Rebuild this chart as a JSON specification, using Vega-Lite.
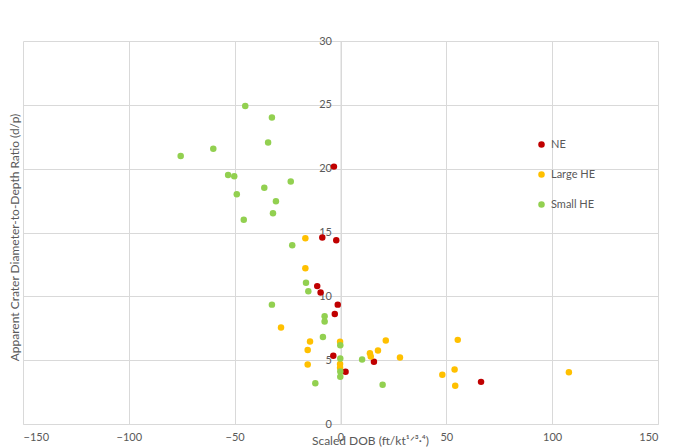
{
  "$schema": "https://vega.github.io/schema/vega-lite/v6.json",
  "autosize": {"type": "none"},
  "padding": {"left": 23, "top": 41, "right": 22, "bottom": 23},
  "width": 635,
  "height": 383,
  "background": "white",
  "config": {
    "view": {"stroke": null},
    "font": "Lato",
    "axis": {
      "gridColor": "#d9d9d9",
      "domainColor": "#d9d9d9",
      "labelColor": "#595959",
      "titleColor": "#595959",
      "labelFontSize": 11,
      "titleFontWeight": "normal",
      "tickSize": 0
    }
  },
  "data": {
    "values": [
      {"dob": -3.1, "ratio": 20.16, "type": "NE"},
      {"dob": -8.6, "ratio": 14.6, "type": "NE"},
      {"dob": -2.0, "ratio": 14.4, "type": "NE"},
      {"dob": -11.0, "ratio": 10.8, "type": "NE"},
      {"dob": -9.4, "ratio": 10.3, "type": "NE"},
      {"dob": -1.3, "ratio": 9.35, "type": "NE"},
      {"dob": -2.7, "ratio": 8.62, "type": "NE"},
      {"dob": -3.4, "ratio": 5.34, "type": "NE"},
      {"dob": 15.8, "ratio": 4.87, "type": "NE"},
      {"dob": 2.4, "ratio": 4.09, "type": "NE"},
      {"dob": 66.4, "ratio": 3.3, "type": "NE"},
      {"dob": -16.6, "ratio": 14.55, "type": "Large HE"},
      {"dob": -16.6, "ratio": 12.2, "type": "Large HE"},
      {"dob": -28.1, "ratio": 7.55, "type": "Large HE"},
      {"dob": -14.4, "ratio": 6.46, "type": "Large HE"},
      {"dob": -0.2, "ratio": 6.45, "type": "Large HE"},
      {"dob": -15.5, "ratio": 5.8, "type": "Large HE"},
      {"dob": 21.4, "ratio": 6.54, "type": "Large HE"},
      {"dob": 17.7, "ratio": 5.75, "type": "Large HE"},
      {"dob": 13.9, "ratio": 5.55, "type": "Large HE"},
      {"dob": 14.3, "ratio": 5.29, "type": "Large HE"},
      {"dob": 28.1, "ratio": 5.2, "type": "Large HE"},
      {"dob": -0.2, "ratio": 4.7, "type": "Large HE"},
      {"dob": -0.2, "ratio": 4.4, "type": "Large HE"},
      {"dob": -15.5, "ratio": 4.66, "type": "Large HE"},
      {"dob": 48.1, "ratio": 3.85, "type": "Large HE"},
      {"dob": 53.9, "ratio": 4.27, "type": "Large HE"},
      {"dob": 54.2, "ratio": 3.0, "type": "Large HE"},
      {"dob": 55.4, "ratio": 6.59, "type": "Large HE"},
      {"dob": 107.9, "ratio": 4.06, "type": "Large HE"},
      {"dob": -45.0, "ratio": 24.9, "type": "Small HE"},
      {"dob": -32.4, "ratio": 24.0, "type": "Small HE"},
      {"dob": -34.2, "ratio": 22.05, "type": "Small HE"},
      {"dob": -60.1, "ratio": 21.56, "type": "Small HE"},
      {"dob": -75.5, "ratio": 21.0, "type": "Small HE"},
      {"dob": -53.1, "ratio": 19.5, "type": "Small HE"},
      {"dob": -50.2, "ratio": 19.4, "type": "Small HE"},
      {"dob": -23.5, "ratio": 19.0, "type": "Small HE"},
      {"dob": -36.0, "ratio": 18.5, "type": "Small HE"},
      {"dob": -49.0, "ratio": 18.0, "type": "Small HE"},
      {"dob": -30.5, "ratio": 17.45, "type": "Small HE"},
      {"dob": -31.9, "ratio": 16.5, "type": "Small HE"},
      {"dob": -45.7, "ratio": 16.0, "type": "Small HE"},
      {"dob": -22.8, "ratio": 14.0, "type": "Small HE"},
      {"dob": -16.3, "ratio": 11.07, "type": "Small HE"},
      {"dob": -15.2, "ratio": 10.4, "type": "Small HE"},
      {"dob": -32.4, "ratio": 9.35, "type": "Small HE"},
      {"dob": -7.5, "ratio": 8.44, "type": "Small HE"},
      {"dob": -7.5, "ratio": 8.02, "type": "Small HE"},
      {"dob": -8.3, "ratio": 6.82, "type": "Small HE"},
      {"dob": -0.1, "ratio": 6.17, "type": "Small HE"},
      {"dob": -0.1, "ratio": 5.13, "type": "Small HE"},
      {"dob": 10.2, "ratio": 5.05, "type": "Small HE"},
      {"dob": -0.1, "ratio": 4.12, "type": "Small HE"},
      {"dob": -0.1, "ratio": 3.7, "type": "Small HE"},
      {"dob": -11.9, "ratio": 3.2, "type": "Small HE"},
      {"dob": 19.9, "ratio": 3.07, "type": "Small HE"}
    ]
  },
  "mark": {"type": "circle", "size": 42, "opacity": 1},
  "encoding": {
    "x": {
      "field": "dob",
      "type": "quantitative",
      "scale": {"domain": [-150, 150], "nice": false, "zero": false},
      "axis": {
        "values": [-150, -100, -50, 0, 50, 100, 150],
        "labelPadding": 7,
        "title": "Scaled DOB (ft/kt¹ᐟ³·⁴)",
        "titleFontSize": 12,
        "titleX": 347,
        "titleY": 16,
        "titleBaseline": "middle"
      }
    },
    "y": {
      "field": "ratio",
      "type": "quantitative",
      "scale": {"domain": [0, 30], "nice": false},
      "axis": {
        "values": [0, 5, 10, 15, 20, 25, 30],
        "offset": -317.5,
        "labelPadding": 9,
        "title": "Apparent Crater Diameter-to-Depth Ratio (d/p)",
        "titleFontSize": 12,
        "titleX": -326.5,
        "titleY": 196,
        "titleBaseline": "middle"
      }
    },
    "color": {
      "field": "type",
      "type": "nominal",
      "scale": {
        "domain": ["NE", "Large HE", "Small HE"],
        "range": ["#c00000", "#ffc000", "#92d050"]
      },
      "legend": {
        "title": null,
        "orient": "none",
        "legendX": 513,
        "legendY": 98,
        "symbolType": "circle",
        "symbolSize": 42,
        "symbolOpacity": 1,
        "labelFontSize": 11,
        "labelColor": "#595959",
        "rowPadding": 18
      }
    }
  }
}
